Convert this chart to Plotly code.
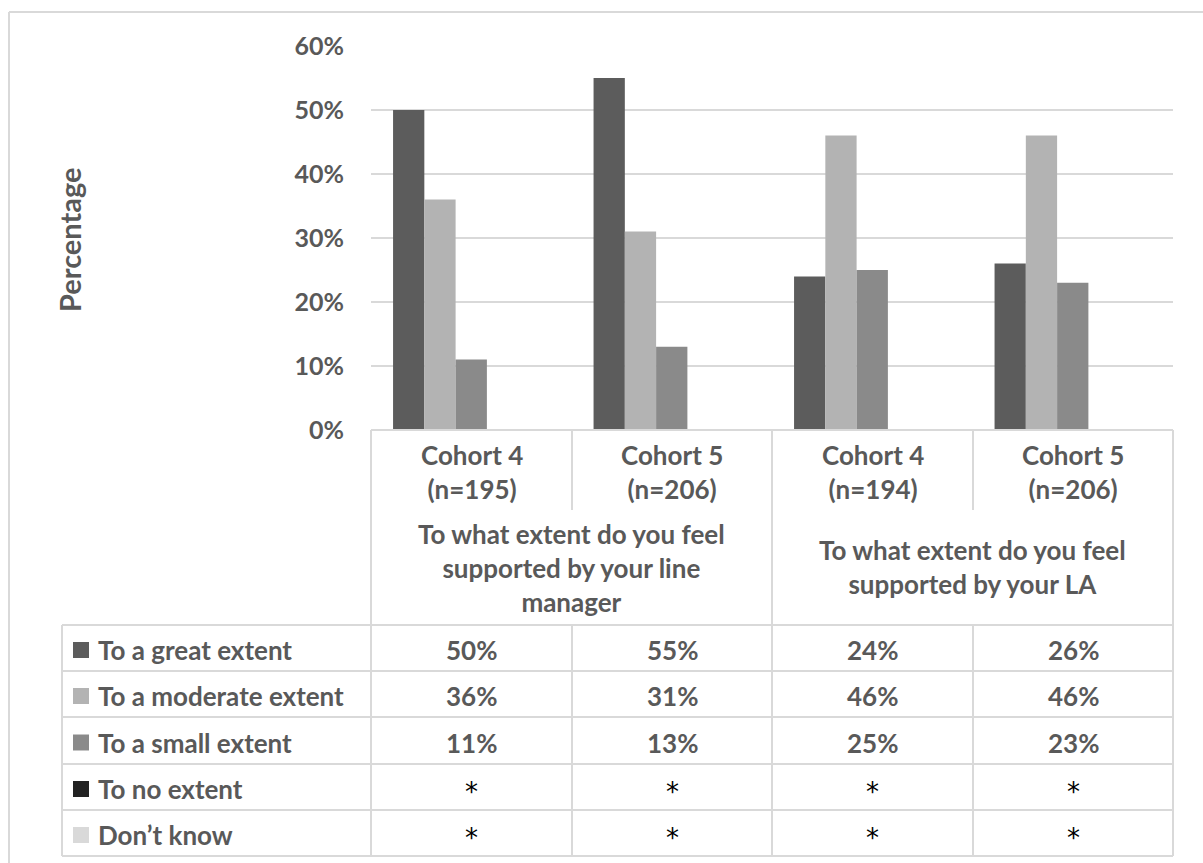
import plotly.graph_objects as go

# ---- data -------------------------------------------------------------
cohort_labels = ["Cohort 4<br>(n=195)", "Cohort 5<br>(n=206)",
                 "Cohort 4<br>(n=194)", "Cohort 5<br>(n=206)"]
questions = ["To what extent do you feel<br>supported by your line<br>manager",
             "To what extent do you feel<br>supported by your LA"]
series_names = ["To a great extent", "To a moderate extent", "To a small extent",
                "To no extent", "Don\u2019t know"]
great_extent = [50, 55, 24, 26]
moderate_extent = [36, 31, 46, 46]
small_extent = [11, 13, 25, 23]
no_extent = [None, None, None, None]      # suppressed (*)
dont_know = [None, None, None, None]      # suppressed (*)
y_ticks = [0, 10, 20, 30, 40, 50, 60]

series_values = [great_extent, moderate_extent, small_extent, no_extent, dont_know]
colors = ["#5c5c5c", "#b3b3b3", "#8a8a8a", "#222222", "#d9d9d9"]

# ---- geometry helpers (pixel -> paper) -------------------------------
W, H = 1203, 863
def fx(px):
    return px / W
def fy(py):
    return 1 - py / H

TXT = "#595959"
LINE = "#d9d9d9"
FONT = "Lato"
FS = 26

col_edges = [371, 572, 772, 973, 1173]
col_centers = [(col_edges[i] + col_edges[i + 1]) / 2 for i in range(4)]
row_edges = [625, 671, 717, 764, 810, 856]
table_left = 62

fig = go.Figure()
xs = list(range(len(cohort_labels)))
for name, vals, c in zip(series_names, series_values, colors):
    fig.add_trace(go.Bar(x=xs, y=vals, name=name, marker=dict(color=c, line=dict(width=0)),
                         showlegend=False))

shapes = []
def hline(y, x0, x1):
    shapes.append(dict(type="line", xref="paper", yref="paper", x0=fx(x0), x1=fx(x1),
                       y0=fy(y), y1=fy(y), line=dict(color=LINE, width=2)))
def vline(x, y0, y1):
    shapes.append(dict(type="line", xref="paper", yref="paper", x0=fx(x), x1=fx(x),
                       y0=fy(y0), y1=fy(y1), line=dict(color=LINE, width=2)))

# outer frame
hline(12, 9, 1203)
vline(9, 12, 863)

# category header block
hline(430, 371, 1173)
for x in (371, 772, 1173):
    vline(x, 430, 625)
for x in (572, 973):
    vline(x, 430, 510)

# data table grid
for y in row_edges:
    hline(y, table_left, 1173)
for x in [table_left] + col_edges:
    vline(x, row_edges[0], row_edges[-1])

annotations = []
# y axis title
annotations.append(dict(text="Percentage", x=fx(69), y=fy(240), xref="paper", yref="paper",
                        textangle=-90, showarrow=False, xanchor="center", yanchor="middle",
                        font=dict(family=FONT, size=29, color=TXT, weight="bold")))

# cohort labels
for cx, lab in zip(col_centers, cohort_labels):
    annotations.append(dict(text=lab, x=fx(cx), y=fy(472), xref="paper", yref="paper",
                            showarrow=False, xanchor="center", yanchor="middle",
                            font=dict(family=FONT, size=FS, color=TXT, weight="bold")))

# question labels
q_centers = [(col_edges[0] + col_edges[2]) / 2, (col_edges[2] + col_edges[4]) / 2]
q_y = [568, 567]
for qx, qy, q in zip(q_centers, q_y, questions):
    annotations.append(dict(text=q, x=fx(qx), y=fy(qy), xref="paper", yref="paper",
                            showarrow=False, xanchor="center", yanchor="middle",
                            font=dict(family=FONT, size=FS, color=TXT, weight="bold")))

# table rows: legend key, series name, values
for r, (name, vals, c) in enumerate(zip(series_names, series_values, colors)):
    yc = (row_edges[r] + row_edges[r + 1]) / 2 + 2
    shapes.append(dict(type="rect", xref="paper", yref="paper",
                       x0=fx(73), x1=fx(89), y0=fy(yc - 8), y1=fy(yc + 8),
                       fillcolor=c, line=dict(width=0)))
    annotations.append(dict(text=name, x=fx(96), y=fy(yc), xref="paper", yref="paper",
                            showarrow=False, xanchor="left", yanchor="middle",
                            font=dict(family=FONT, size=FS, color=TXT, weight="bold")))
    for cx, v in zip(col_centers, vals):
        if v is None:
            annotations.append(dict(text="*", x=fx(cx), y=fy(yc + 3), xref="paper", yref="paper",
                                    showarrow=False, xanchor="center", yanchor="middle",
                                    font=dict(family="DejaVu Sans", size=26, color="#000000")))
        else:
            annotations.append(dict(text=f"{v}%", x=fx(cx), y=fy(yc), xref="paper", yref="paper",
                                    showarrow=False, xanchor="center", yanchor="middle",
                                    font=dict(family=FONT, size=FS, color=TXT, weight="bold")))

fig.update_layout(
    width=W, height=H, autosize=False,
    margin=dict(l=0, r=0, t=0, b=0, pad=0, autoexpand=False),
    paper_bgcolor="white", plot_bgcolor="white",
    barmode="group", bargap=0.22, bargroupgap=0,
    xaxis=dict(domain=[fx(371), fx(1173)], range=[-0.5, 3.5], showticklabels=False,
               showgrid=False, zeroline=False, showline=False, ticks="", automargin=False),
    yaxis=dict(domain=[fy(430), fy(46)], range=[0, 60], tickvals=y_ticks,
               ticktext=[f"{t}%" for t in y_ticks], showgrid=True, gridcolor=LINE,
               gridwidth=2, zeroline=False, showline=False, ticks="", automargin=False,
               ticklabelstandoff=26,
               tickfont=dict(family=FONT, size=25, color=TXT, weight="bold")),
    shapes=shapes,
    annotations=annotations,
)

fig.write_html("out.html")
